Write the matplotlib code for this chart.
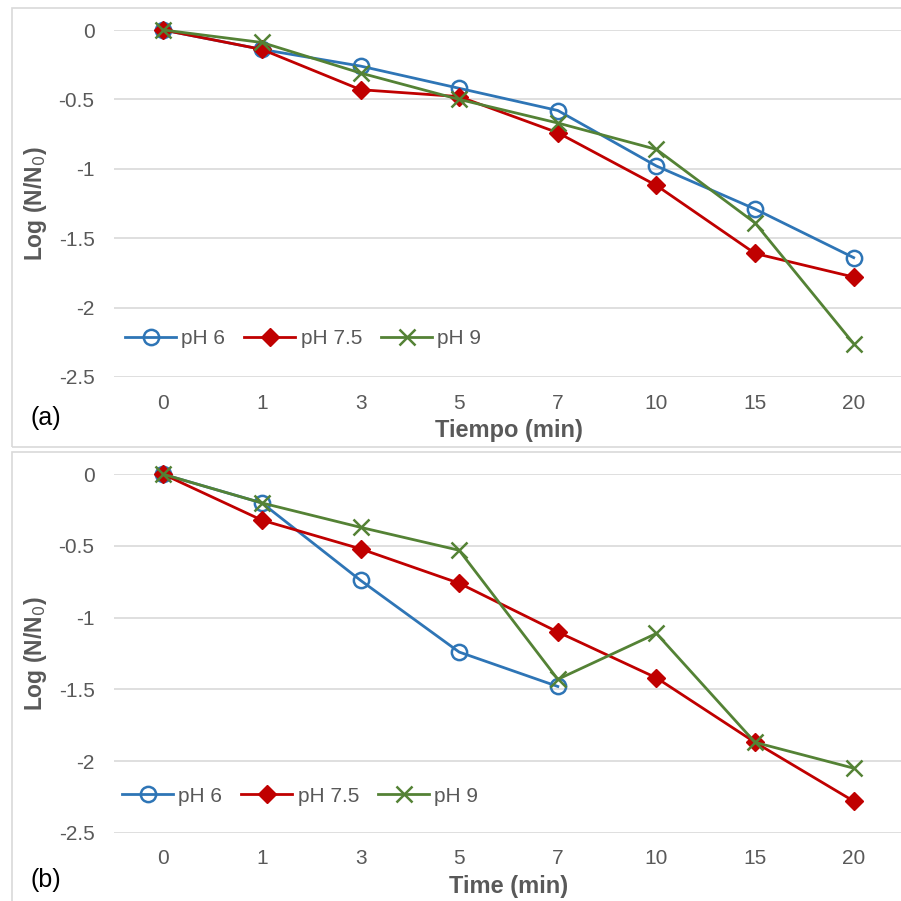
import matplotlib
matplotlib.use("Agg")
import matplotlib.pyplot as plt
from matplotlib.patches import Rectangle
import numpy as np

plt.rcParams['font.family'] = ['Liberation Sans', 'DejaVu Sans']

categories = ["0", "1", "3", "5", "7", "10", "15", "20"]
series_names = ["pH 6", "pH 7.5", "pH 9"]

# Panel (a)
a_ph6 = [0, -0.14, -0.26, -0.42, -0.58, -0.98, -1.29, -1.64]
a_ph75 = [0, -0.14, -0.43, -0.48, -0.74, -1.12, -1.61, -1.78]
a_ph9 = [0, -0.09, -0.31, -0.50, -0.67, -0.86, -1.39, -2.26]

# Panel (b)
b_ph6 = [0, -0.20, -0.74, -1.24, -1.48, None, None, None]
b_ph75 = [0, -0.32, -0.52, -0.76, -1.10, -1.42, -1.87, -2.28]
b_ph9 = [0, -0.20, -0.37, -0.53, -1.43, -1.11, -1.87, -2.05]

yticks = [0, -0.5, -1, -1.5, -2, -2.5]
ytick_labels = ["0", "-0.5", "-1", "-1.5", "-2", "-2.5"]

colors = ["#2E75B6", "#C00000", "#548235"]
styles = [
    dict(marker='o', ms=11, mfc='none', mec=colors[0], mew=1.8),
    dict(marker='D', ms=9, mfc=colors[1], mec=colors[1], mew=1.0),
    dict(marker='x', ms=12, mec=colors[2], mew=1.8),
]

W = H = 901
fig = plt.figure(figsize=(W / 100, H / 100), dpi=100)
fig.patch.set_facecolor('white')

# Panel frames
for (y0, y1) in [(8, 447.5), (452.5, 915)]:
    fig.patches.append(Rectangle((11.5 / W, 1 - y1 / H), (915 - 11.5) / W, (y1 - y0) / H,
                                 transform=fig.transFigure, fill=False,
                                 edgecolor='#D9D9D9', lw=1.2, zorder=0))

tick_color = '#595959'

def make_panel(rect, data, xlabel, tag, tag_y, label_y, legend_anchor, colspacing):
    ax = fig.add_axes(rect)
    x = np.arange(len(categories))
    for vals, name, col, st in zip(data, series_names, colors, styles):
        v = np.array([np.nan if d is None else d for d in vals], dtype=float)
        ax.plot(x, v, color=col, lw=2.0, label=name, clip_on=False, **st)
    ax.set_xlim(-0.5, len(categories) - 0.5)
    ax.set_ylim(-2.5, 0)
    ax.set_xticks(x)
    ax.set_xticklabels(categories)
    ax.set_yticks(yticks)
    ax.set_yticklabels(ytick_labels)
    ax.tick_params(axis='both', length=0, labelsize=15, labelcolor=tick_color)
    ax.tick_params(axis='y', pad=14)
    ax.tick_params(axis='x', pad=12)
    for s in ax.spines.values():
        s.set_visible(False)
    ax.grid(axis='y', color='#D9D9D9', lw=1.2)
    ax.set_axisbelow(True)
    ax.set_xlabel(xlabel, fontsize=17, fontweight='bold', color=tick_color)
    ax.xaxis.label.set_va('center')
    ax.xaxis.set_label_coords(0.5, label_y)
    ax.set_ylabel("Log (N/N$_0$)", fontsize=16.5, fontweight='bold', color=tick_color)
    ax.yaxis.label.set_va('center')
    ax.yaxis.set_label_coords(-0.100, 0.5)
    ax.legend(loc='center left', bbox_to_anchor=legend_anchor, ncol=3, frameon=False,
              fontsize=15, handlelength=2.45, handletextpad=0.25, columnspacing=colspacing,
              borderpad=0, borderaxespad=0, labelcolor=tick_color)
    fig.text(31 / W, 1 - tag_y / H, tag, fontsize=18, color='black', va='center', ha='left')
    return ax

L = 114 / W
Wd = 789 / W
make_panel([L, 1 - 377 / H, Wd, 347 / H], [a_ph6, a_ph75, a_ph9], "Tiempo (min)", "(a)", 418,
           (377 - 431) / 347, ((125 - 114) / 789, (377 - 339) / 347), 0.92)
make_panel([L, 1 - 832.7 / H, Wd, 358.4 / H], [b_ph6, b_ph75, b_ph9], "Time (min)", "(b)", 880,
           (832.7 - 886.7) / 358.4, ((122 - 114) / 789, (832.7 - 796) / 358.4), 0.92)

fig.savefig("out.png", dpi=100, facecolor='white')
